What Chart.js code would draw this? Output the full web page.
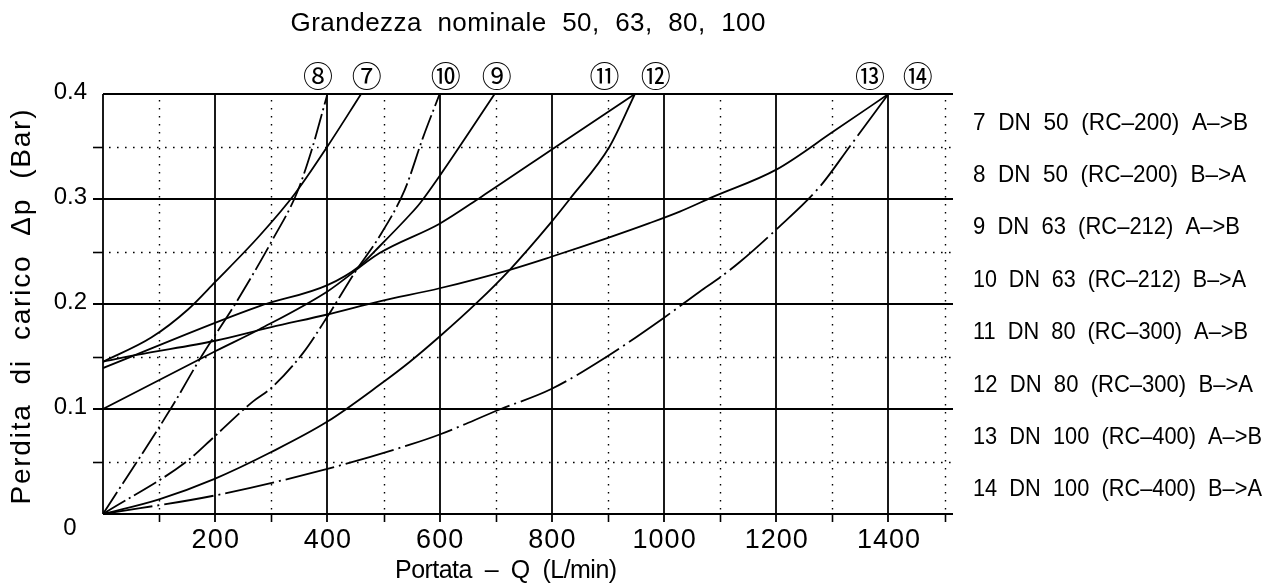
<!DOCTYPE html>
<html><head><meta charset="utf-8">
<script src="https://cdn.jsdelivr.net/npm/chart.js@4.4.0/dist/chart.umd.min.js"></script>
<style>html,body{margin:0;padding:0;background:#fff;overflow:hidden}#wrap{width:1265px;height:585px;position:relative}</style>
</head><body><div id="wrap"><canvas id="c" width="1265" height="585"></canvas></div>
<script>
// ---- texts ----
const chartTitle = 'Grandezza  nominale  50,  63,  80,  100';
const xAxisTitle = 'Portata  –  Q  (L/min)';
const yAxisTitle = 'Perdita  di  carico  Δp  (Bar)';

// ---- ticks ----
const xMajorTicks = [200, 400, 600, 800, 1000, 1200, 1400];
const xMinorTicks = [100, 300, 500, 700, 900, 1100, 1300, 1500];
const xTickLabels = ['200', '400', '600', '800', '1000', '1200', '1400'];
const yMajorTicks = [0.1, 0.2, 0.3, 0.4];
const yMinorTicks = [0.05, 0.15, 0.25, 0.35];
const yTickValues = [0, 0.1, 0.2, 0.3, 0.4];
const yTickLabels = ['0', '0.1', '0.2', '0.3', '0.4'];

// ---- series ----
const seriesNames = [
  '7  DN  50  (RC–200)  A–>B',
  '8  DN  50  (RC–200)  B–>A',
  '9  DN  63  (RC–212)  A–>B',
  '10  DN  63  (RC–212)  B–>A',
  '11  DN  80  (RC–300)  A–>B',
  '12  DN  80  (RC–300)  B–>A',
  '13  DN  100  (RC–400)  A–>B',
  '14  DN  100  (RC–400)  B–>A'
];
const curveTags = ['⑦', '⑧', '⑨', '⑩', '⑪', '⑫', '⑬', '⑭'];
const curveTagQ = [470, 383, 702, 611, 894, 985, 1367, 1452];

const q7  = [0, 86, 152, 200, 279, 342, 400, 460];
const dp7 = [0.145, 0.168, 0.195, 0.221, 0.265, 0.305, 0.35, 0.4];
const q8  = [0, 125, 172, 238, 303, 345, 371, 400];
const dp8 = [0, 0.104, 0.147, 0.202, 0.262, 0.305, 0.345, 0.4];
const q9  = [0, 279, 400, 457, 493, 547, 565, 600, 698];
const dp9 = [0.139, 0.198, 0.218, 0.236, 0.255, 0.285, 0.296, 0.322, 0.4];
const q10  = [0, 149, 196, 267, 300, 356, 400, 452, 490, 538, 570, 600];
const dp10 = [0, 0.05, 0.0725, 0.107, 0.12, 0.153, 0.188, 0.2326, 0.262, 0.309, 0.358, 0.4];
const q11  = [0, 200, 279, 400, 493, 600, 674, 808, 948];
const dp11 = [0.1, 0.155, 0.176, 0.212, 0.2485, 0.2765, 0.302, 0.35, 0.4];
const q12  = [0, 100, 199, 300, 400, 493, 547, 600, 666, 725, 799, 832, 903, 948];
const dp12 = [0, 0.014, 0.0335, 0.059, 0.088, 0.123, 0.145, 0.169, 0.201, 0.2326, 0.278, 0.30, 0.35, 0.4];
const q13  = [0, 60, 200, 300, 400, 493, 600, 725, 799, 900, 974, 1028, 1087, 1200, 1301, 1400];
const dp13 = [0.145, 0.1515, 0.165, 0.178, 0.19, 0.2025, 0.215, 0.2326, 0.245, 0.263, 0.277, 0.288, 0.302, 0.328, 0.364, 0.4];
const q14  = [0, 199, 400, 547, 600, 707, 799, 897, 1000, 1064, 1099, 1135, 1200, 1278, 1331, 1400];
const dp14 = [0, 0.0176, 0.043, 0.066, 0.0757, 0.0995, 0.119, 0.1496, 0.187, 0.212, 0.225, 0.24, 0.271, 0.312, 0.35, 0.4];

const seriesQ  = [q7, q8, q9, q10, q11, q12, q13, q14];
const seriesDp = [dp7, dp8, dp9, dp10, dp11, dp12, dp13, dp14];
const seriesStyle = ['solid', 'dashdot', 'solid', 'dashdot', 'solid', 'solid', 'solid', 'dashdotlong'];

// ---- layout (pixels) ----
const FONT = "'Liberation Sans', Arial, sans-serif";
const dashes = { solid: [], dashdot: [26, 4, 2, 4], dashdotlong: [50, 5, 2, 5] };
const legendTextWidths = [275, 273, 267, 273, 275, 280, 289, 289];

const datasets = seriesQ.map((qs, i) => ({
  label: seriesNames[i],
  data: qs.map((q, j) => ({ x: q, y: seriesDp[i][j] })),
  borderColor: '#000',
  borderWidth: 1.8,
  borderDash: dashes[seriesStyle[i]],
  borderCapStyle: 'butt',
  pointRadius: 0,
  fill: false,
  cubicInterpolationMode: 'monotone'
}));

function seg(ctx, x1, y1, x2, y2) { ctx.beginPath(); ctx.moveTo(x1, y1); ctx.lineTo(x2, y2); ctx.stroke(); }

// draw text with visible width targetW; mode 'space' uses letter spacing, 'scale' squeezes glyphs
function fitText(ctx, text, x, y, targetW, align, mode) {
  const hasLS = 'letterSpacing' in ctx;
  if (hasLS) ctx.letterSpacing = '0px';
  const w = ctx.measureText(text).width;
  const left = align === 'left' ? x : x - targetW / 2;
  ctx.save();
  ctx.textAlign = 'left';
  if (mode === 'space' && hasLS && text.length > 1) {
    ctx.letterSpacing = ((targetW - w) / (text.length - 1)).toFixed(2) + 'px';
    ctx.fillText(text, left, y);
  } else {
    ctx.translate(left, y);
    ctx.scale(targetW / w, 1);
    ctx.fillText(text, 0, 0);
  }
  ctx.restore();
  if (hasLS) ctx.letterSpacing = '0px';
}

const cadPlugin = {
  id: 'cad',
  beforeDatasetsDraw(chart) {
    const { ctx, chartArea: a, scales: { x, y } } = chart;
    ctx.save();
    ctx.strokeStyle = '#000';
    // dotted minor grid
    ctx.lineWidth = 1.4;
    ctx.setLineDash([1.6, 6.4]);
    xMinorTicks.forEach(v => { const px = Math.round(x.getPixelForValue(v)) + 0.5; seg(ctx, px, a.top + 6, px, a.bottom); });
    yMinorTicks.forEach(v => { const py = Math.round(y.getPixelForValue(v)) + 0.5; seg(ctx, a.left + 6, py, a.right, py); });
    ctx.setLineDash([]);
    // minor ticks
    ctx.lineWidth = 1.6;
    xMinorTicks.forEach(v => { const px = Math.round(x.getPixelForValue(v)) + 0.5; seg(ctx, px, a.bottom, px, a.bottom + 8); });
    yMinorTicks.forEach(v => { const py = Math.round(y.getPixelForValue(v)) + 0.5; seg(ctx, a.left - 10, py, a.left, py); });
    // solid major grid
    ctx.lineWidth = 1.8;
    xMajorTicks.forEach(v => { const px = Math.round(x.getPixelForValue(v)); seg(ctx, px, a.top, px, a.bottom + 8); });
    yMajorTicks.forEach(v => { const py = Math.round(y.getPixelForValue(v)); seg(ctx, v >= 0.4 ? a.left : a.left - 10, py, a.right, py); });
    // axes
    const x0 = Math.round(x.getPixelForValue(0)), y0 = Math.round(y.getPixelForValue(0));
    seg(ctx, x0, a.top, x0, y0);
    seg(ctx, a.left, y0, a.right, y0);
    ctx.restore();
  },
  afterDraw(chart) {
    const { ctx, chartArea: a, scales: { x, y } } = chart;
    ctx.save();
    ctx.fillStyle = '#000';
    ctx.textBaseline = 'middle';
    // x tick labels
    ctx.font = '27px ' + FONT;
    xMajorTicks.forEach((v, i) => fitText(ctx, xTickLabels[i], x.getPixelForValue(v), a.bottom + 27, xTickLabels[i].length * 15.8, 'center', 'space'));
    // y tick labels
    ctx.font = '24px ' + FONT;
    yTickValues.forEach((v, i) => {
      if (v === 0) { ctx.textAlign = 'center'; ctx.fillText(yTickLabels[i], a.left - 33, a.bottom + 14); }
      else { ctx.textAlign = 'right'; ctx.fillText(yTickLabels[i], a.left - 16, y.getPixelForValue(v) - 2); }
    });
    // titles
    ctx.font = '26px ' + FONT;
    fitText(ctx, chartTitle, (a.left + a.right) / 2, 24, 475, 'center', 'space');
    ctx.font = '25px ' + FONT;
    fitText(ctx, xAxisTitle, 506, a.bottom + 57, 222, 'center', 'space');
    ctx.save();
    ctx.translate(22, 307);
    ctx.rotate(-Math.PI / 2);
    ctx.font = '28px ' + FONT;
    fitText(ctx, yAxisTitle, 0, 0, 395, 'center', 'space');
    ctx.restore();
    // curve tags
    ctx.textAlign = 'center';
    ctx.font = "30px 'Noto Sans CJK SC', 'DejaVu Sans', sans-serif";
    curveTags.forEach((t, i) => ctx.fillText(t, x.getPixelForValue(curveTagQ[i]), a.top - 18));
    // legend
    ctx.font = '24px ' + FONT;
    seriesNames.forEach((n, i) => fitText(ctx, n, a.right + 20, 123 + i * 52.4, legendTextWidths[i], 'left', 'scale'));
    ctx.restore();
  }
};

new Chart(document.getElementById('c'), {
  type: 'line',
  data: { datasets },
  options: {
    responsive: false,
    animation: false,
    devicePixelRatio: 1,
    layout: { padding: { left: 103, right: 312, top: 94, bottom: 71 } },
    plugins: { legend: { display: false }, title: { display: false }, tooltip: { enabled: false } },
    scales: {
      x: { type: 'linear', min: 0, max: 1515, display: false },
      y: { type: 'linear', min: 0, max: 0.4, display: false }
    }
  },
  plugins: [cadPlugin]
});
</script></body></html>
